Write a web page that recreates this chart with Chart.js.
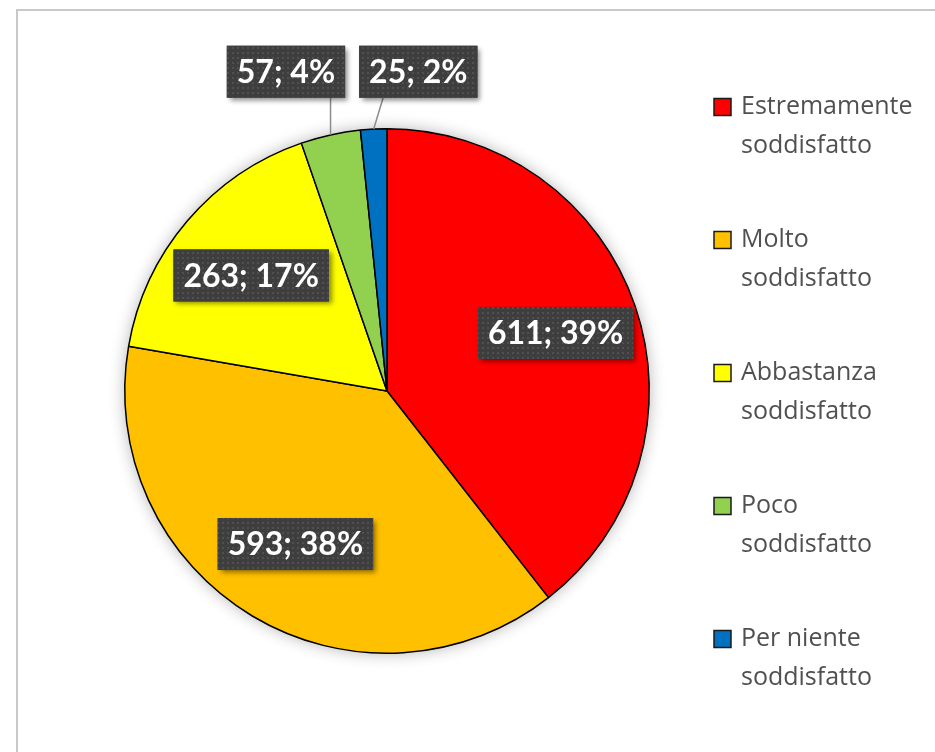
<!DOCTYPE html>
<html>
<head>
<meta charset="utf-8">
<script src="https://cdn.jsdelivr.net/npm/chart.js@4.4.0/dist/chart.umd.min.js"></script>
<style>
  html, body { margin: 0; padding: 0; background: #fff; overflow: hidden; }
  #frame { position: absolute; left: 16px; top: 9px; width: 1000px; height: 900px;
           border-left: 2px solid #c9c9c9; border-top: 2px solid #c9c9c9; }
  #wrap { position: absolute; left: 0; top: 0; width: 935px; height: 752px; }
</style>
</head>
<body>
<div id="frame"></div>
<div id="wrap"><canvas id="myChart" width="935" height="752"></canvas></div>
<script>
var categories = [
  ['Estremamente', 'soddisfatto'],
  ['Molto', 'soddisfatto'],
  ['Abbastanza', 'soddisfatto'],
  ['Poco', 'soddisfatto'],
  ['Per niente', 'soddisfatto']
];
var values = [611, 593, 263, 57, 25];
var colors = ['#FF0000', '#FFC000', '#FFFF00', '#92D050', '#0070C0'];

var total = values.reduce(function(a, b) { return a + b }, 0);

function dotPattern(ctx) {
  var c = document.createElement('canvas');
  c.width = 5; c.height = 5;
  var p = c.getContext('2d');
  p.fillStyle = '#3e3e3e';
  p.fillRect(0, 0, 5, 5);
  p.fillStyle = '#505050';
  p.fillRect(2, 2, 2, 2);
  return ctx.createPattern(c, 'repeat');
}

function drawBox(ctx, text, x, y, w, h, pat) {
  ctx.save();
  ctx.shadowColor = 'rgba(0,0,0,0.45)';
  ctx.shadowBlur = 5;
  ctx.shadowOffsetX = 3;
  ctx.shadowOffsetY = 3;
  ctx.fillStyle = '#3e3e3e';
  ctx.fillRect(x, y, w, h);
  ctx.restore();
  ctx.fillStyle = pat;
  ctx.fillRect(x, y, w, h);
  ctx.fillStyle = '#ffffff';
  ctx.textAlign = 'center';
  ctx.textBaseline = 'middle';
  ctx.fillText(text, x + w / 2, y + h / 2 + 1);
}

// soft shadow behind the whole pie
var pieShadow = {
  id: 'pieShadow',
  beforeDatasetsDraw: function(chart) {
    var a = chart.getDatasetMeta(0).data[0];
    var ctx = chart.ctx;
    ctx.save();
    ctx.shadowColor = 'rgba(0,0,0,0.3)';
    ctx.shadowBlur = 16;
    ctx.fillStyle = '#fff';
    ctx.beginPath();
    ctx.arc(a.x, a.y, a.outerRadius, 0, Math.PI * 2);
    ctx.fill();
    ctx.restore();
  }
};

var dataLabels = {
  id: 'dataLabels',
  afterDatasetsDraw: function(chart) {
    var ctx = chart.ctx;
    var arcs = chart.getDatasetMeta(0).data;
    var pat = dotPattern(ctx);
    var padX = 10, h = 52;
    var outside = [];
    ctx.save();
    ctx.font = 'bold 32px Lato';
    arcs.forEach(function(arc, i) {
      var pct = Math.round(values[i] / total * 100);
      var text = values[i] + '; ' + pct + '%';
      var w = ctx.measureText(text).width + 2 * padX;
      var mid = (arc.startAngle + arc.endAngle) / 2;
      if (pct >= 10) {
        var r = arc.outerRadius * 0.68;
        var cx = arc.x + Math.cos(mid) * r;
        var cy = arc.y + Math.sin(mid) * r;
        drawBox(ctx, text, cx - w / 2, cy - h / 2, w, h, pat);
      } else {
        outside.push({
          text: text, w: w,
          ax: arc.x + Math.cos(mid) * arc.outerRadius,
          ay: arc.y + Math.sin(mid) * arc.outerRadius,
          top: arc.y - arc.outerRadius - 57 - h / 2
        });
      }
    });
    if (outside.length) {
      var gap = 14;
      var sumW = outside.reduce(function(s, o) { return s + o.w }, 0) + gap * (outside.length - 1);
      var midX = (outside[0].ax + outside[outside.length - 1].ax) / 2;
      var x = midX - sumW / 2;
      outside.forEach(function(o, k) {
        var lx = Math.min(Math.max(o.ax, x + 8), x + o.w - 8);
        if (k > 0) lx = Math.max(lx, x + 24);
        ctx.strokeStyle = '#8c8c8c';
        ctx.lineWidth = 1.5;
        ctx.beginPath();
        ctx.moveTo(o.ax, o.ay);
        ctx.lineTo(lx, o.top + h);
        ctx.stroke();
        drawBox(ctx, o.text, x, o.top, o.w, h, pat);
        x += o.w + gap;
      });
    }
    ctx.restore();
  }
};

var sideLegend = {
  id: 'sideLegend',
  afterDraw: function(chart) {
    var ctx = chart.ctx;
    ctx.save();
    ctx.font = '25px "Open Sans"';
    ctx.textBaseline = 'middle';
    ctx.textAlign = 'left';
    var y = 107;
    categories.forEach(function(lines, i) {
      ctx.fillStyle = colors[i];
      ctx.fillRect(714, y - 8.5, 17, 17);
      ctx.strokeStyle = '#1a1a1a';
      ctx.lineWidth = 1.5;
      ctx.strokeRect(714, y - 8.5, 17, 17);
      ctx.fillStyle = '#505050';
      lines.forEach(function(t, j) {
        ctx.fillText(t, 741, y + j * 39);
      });
      y += 133;
    });
    ctx.restore();
  }
};

var ctx = document.getElementById('myChart').getContext('2d');
var chart = new Chart(ctx, {
  type: 'pie',
  data: {
    labels: categories.map(function(c) { return c.join(' ') }),
    datasets: [{
      data: values,
      backgroundColor: colors,
      borderColor: '#000000',
      borderWidth: 1.5
    }]
  },
  options: {
    responsive: false,
    animation: false,
    layout: { padding: { left: 124, right: 285, top: 128, bottom: 98 } },
    plugins: {
      legend: { display: false },
      tooltip: { enabled: false }
    }
  },
  plugins: [pieShadow, dataLabels, sideLegend]
});
</script>
</body>
</html>
